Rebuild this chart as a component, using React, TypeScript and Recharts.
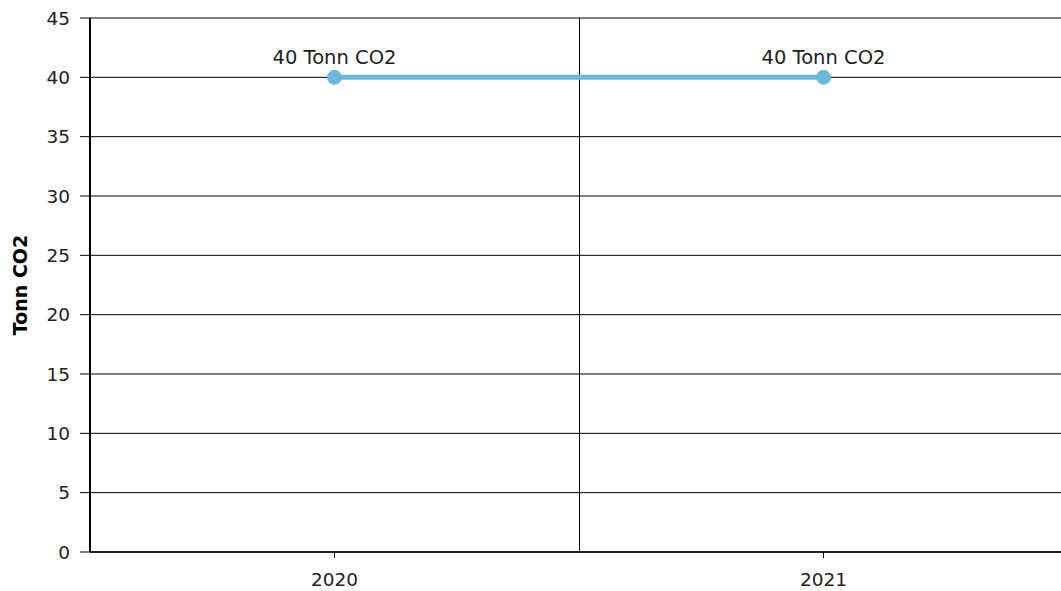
import React from "react";
import {
    LineChart,
    Line,
    XAxis,
    YAxis,
    CartesianGrid,
    LabelList
} from "recharts";

const years = ["2020", "2021"];
const emissions = [40, 40];
const yTicks = [0, 5, 10, 15, 20, 25, 30, 35, 40, 45];

const data = years.map((year, i) => ({ year, value: emissions[i] }));

const FONT = "'DejaVu Sans', Verdana, sans-serif";

const YLabel = ({ viewBox }: any) => {
    const x = viewBox.x + 20;
    const y = viewBox.y + viewBox.height / 2;
    return (
        <text
            x={x}
            y={y}
            transform={`rotate(-90, ${x}, ${y})`}
            textAnchor="middle"
            dominantBaseline="central"
            fontFamily={FONT}
            fontSize={19}
            fontWeight="bold"
            fill="#000"
        >
            Tonn CO2
        </text>
    );
};

const App: React.FC = () => {
    return (
        <div
            style={{
                position: "absolute",
                left: 0,
                top: 0,
                width: 1061,
                height: 591,
                overflow: "hidden",
                background: "#fff"
            }}
        >
            <LineChart
                width={1068}
                height={591}
                data={data}
                margin={{ top: 18, right: 0, bottom: 0, left: 0 }}
            >
                <CartesianGrid
                    stroke="#000"
                    strokeWidth={1}
                    verticalCoordinatesGenerator={({ offset }: any) => [
                        Math.round(offset.left + offset.width / 2) + 0.5
                    ]}
                />
                <XAxis
                    dataKey="year"
                    scale="band"
                    height={39}
                    tickSize={6}
                    tickMargin={15}
                    axisLine={{ stroke: "#222", strokeWidth: 2 }}
                    tickLine={{ stroke: "#000" }}
                    tick={{ fontSize: 18.5, fontFamily: FONT, fill: "#222" }}
                />
                <YAxis
                    width={90}
                    domain={[0, 45]}
                    ticks={yTicks}
                    interval={0}
                    tickSize={10}
                    tickMargin={10}
                    axisLine={{ stroke: "#000", strokeWidth: 2 }}
                    tickLine={{ stroke: "#000" }}
                    tick={{ fontSize: 18.5, fontFamily: FONT, fill: "#222" }}
                    label={<YLabel />}
                />
                <Line
                    dataKey="value"
                    stroke="#6bb8de"
                    strokeWidth={5}
                    dot={{ r: 7, fill: "#6bb8de", stroke: "#6bb8de", strokeWidth: 1 }}
                    activeDot={false}
                    isAnimationActive={false}
                >
                    <LabelList
                        dataKey="value"
                        position="top"
                        offset={13}
                        formatter={(v: any) => `${v} Tonn CO2`}
                        style={{ fontSize: 19.5, fontFamily: FONT, fill: "#222" }}
                    />
                </Line>
            </LineChart>
        </div>
    );
};

export default App;
